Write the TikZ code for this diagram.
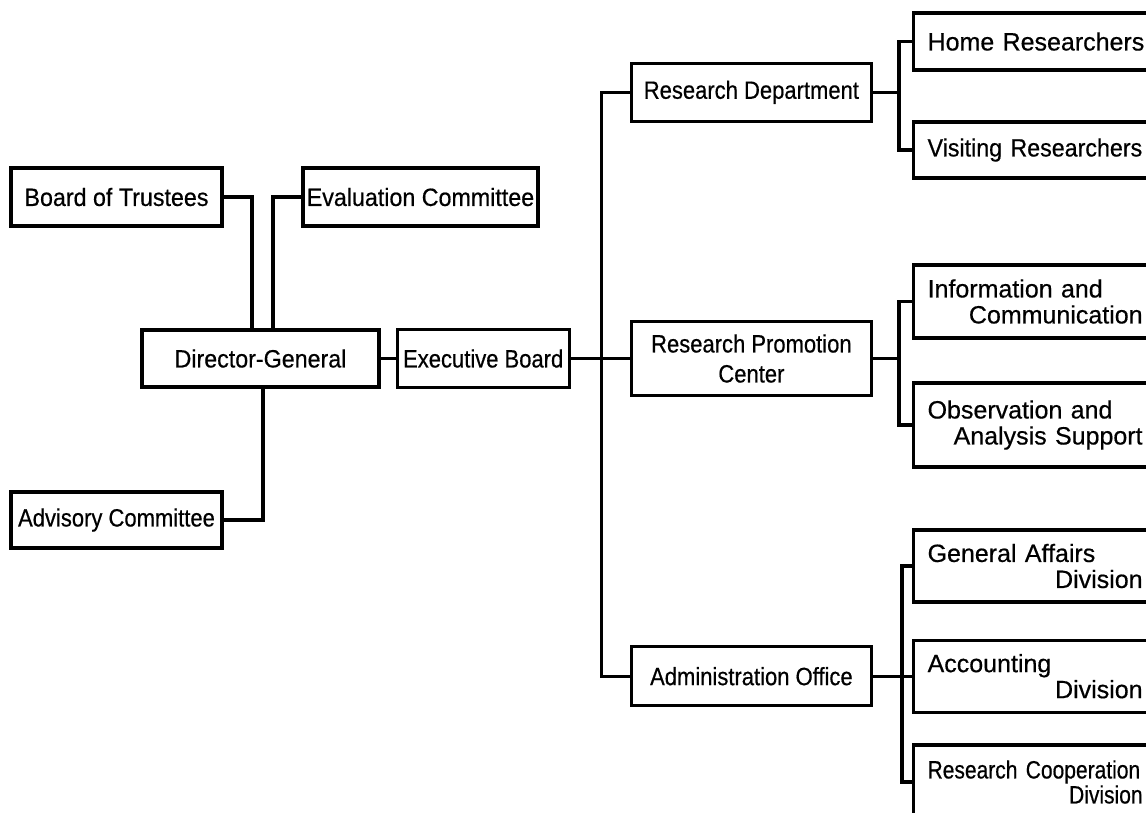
\documentclass[tikz,border=0pt]{standalone}
\usepackage{fontspec}
\setmainfont{Liberation Sans}[FakeBold=0.5]
\newfontfamily\orgfont[FakeStretch=0.93,FakeBold=0.5]{Liberation Sans}
\newfontfamily\narrowfont[FakeStretch=0.88,FakeBold=0.5]{Liberation Sans}
\newfontfamily\rcfont[FakeStretch=0.84,FakeBold=0.5]{Liberation Sans}
\usetikzlibrary{positioning}
\begin{document}
\begin{tikzpicture}
[x=1pt,y=-1pt,
box/.style={draw,line width=3.2pt,inner sep=4pt,minimum height=58pt,align=center,
  font=\orgfont\fontsize{25}{27}\selectfont},
narrow/.style={font=\narrowfont\fontsize{25}{30}\selectfont},
unit/.style={draw,line width=3.2pt,anchor=west,inner xsep=14pt,inner ysep=4pt,
  text width=215pt,align=left,font=\fontsize{25}{26}\selectfont},
link/.style={line width=3.2pt}]
\useasboundingbox (0,0) rectangle (1146,812);
\clip (0,0) rectangle (1146,812);
\node[box,minimum width=237pt,minimum height=57pt](dg) at (260.5,358.5){Director-General};
\node[box,narrow,minimum width=172pt,right=15pt of dg](eb){Executive Board};
\node[box,minimum width=211pt](bot) at (116.5,197){Board of Trustees};
\node[box,minimum width=235pt,inner xsep=2pt](eval) at (420.5,197){Evaluation Committee};
\node[box,narrow,minimum width=211pt,minimum height=56pt](adv) at (116.5,520){Advisory Committee};
\node[box,narrow,minimum width=240pt,minimum height=74pt,right=59pt of eb](rpc){Research Promotion\\Center};
\node[box,narrow,minimum width=240pt,above=197pt of rpc](rd){Research Department};
\node[box,narrow,minimum width=240pt,minimum height=59pt,below=248pt of rpc](ao){Administration Office};
\node[unit,minimum height=57pt](home) at (912,41.5){\mbox{Home Researchers}};
\node[unit,minimum height=56pt,font=\orgfont\fontsize{25}{26}\selectfont](visit) at (912,150){\mbox{Visiting Researchers}};
\node[unit,minimum height=73pt](info) at (912,301.5){Information and\\\hspace*{\fill}Communication};
\node[unit,minimum height=84pt](obs) at (912,425){Observation and\\\hspace*{\fill}Analysis Support};
\node[unit,minimum height=72pt](ga) at (912,566){General Affairs\\\hspace*{\fill}Division};
\node[unit,minimum height=72pt](acc) at (ao.east -| 912,0){Accounting\\\hspace*{\fill}Division};
\node[unit,minimum height=74pt,font=\rcfont\fontsize{25}{25}\selectfont](rc) at (912,782){Research Cooperation\\\hspace*{\fill}Division\hspace*{22pt}};
\coordinate (tk) at ([xshift=31pt]eb.east);
\coordinate (rdj) at ([xshift=26pt]rd.east);
\coordinate (rpcj) at ([xshift=26pt]rpc.east);
\coordinate (aoj) at ([xshift=29pt]ao.east);
\draw[link] (bot.east) -| ([xshift=-8.5pt]dg.north);
\draw[link] (eval.west) -| ([xshift=12.5pt]dg.north);
\draw[link] (adv.east) -| ([xshift=2.5pt]dg.south);
\draw[link] (dg) -- (eb); \draw[link] (eb) -- (rpc);
\draw[link] (rd.west) -| (tk) |- (ao.west);
\draw[link] (rd) -- (rdj); \draw[link] (home.west) -| (rdj) |- (visit.west);
\draw[link] (rpc) -- (rpcj); \draw[link] (info.west) -| (rpcj) |- (obs.west);
\draw[link] (ao) -- (acc); \draw[link] (ga.west) -| (aoj) |- (rc.west);
\end{tikzpicture}
\end{document}
